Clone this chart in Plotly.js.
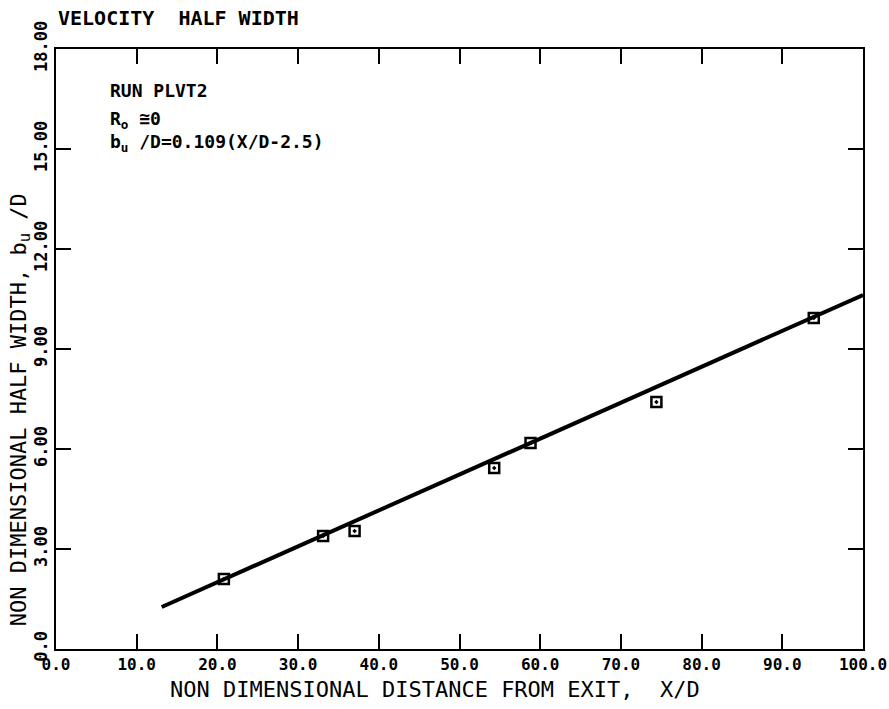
<!DOCTYPE html>
<html>
<head>
<meta charset="utf-8">
<script src="https://cdn.plot.ly/plotly-3.0.1.min.js"></script>
<style>html,body{margin:0;padding:0;background:#fff;}#chart{width:889px;height:709px;}</style>
</head>
<body>
<div id="chart"></div>
<script>
// Measured data points (X/D, b_u/D)
const xData = [20.8, 33.1, 37.0, 54.3, 58.8, 74.4, 93.9];
const yData = [2.10, 3.39, 3.54, 5.43, 6.18, 7.41, 9.93];
// Fitted line endpoints
const fitX = [13.1, 100];
const fitY = [1.26, 10.62];
// Tick values and labels
const xTickVals = [0, 10, 20, 30, 40, 50, 60, 70, 80, 90, 100];
const xTickText = ["0.0", "10.0", "20.0", "30.0", "40.0", "50.0", "60.0", "70.0", "80.0", "90.0", "100.0"];
const yTickVals = [0, 3, 6, 9, 12, 15, 18];
const yTickText = ["0.0", "3.00", "6.00", "9.00", "12.00", "15.00", "18.00"];

const MONO = "DejaVu Sans Mono, Liberation Mono, monospace";

const traces = [
  {
    x: fitX, y: fitY, mode: "lines", type: "scatter",
    line: {color: "#000", width: 4}, hoverinfo: "skip", showlegend: false
  },
  {
    x: xData, y: yData, mode: "markers", type: "scatter",
    marker: {symbol: "square-open-dot", size: 10, color: "#000", line: {color: "#000", width: 2.5}},
    showlegend: false
  }
];

const axisCommon = {
  showline: true, linecolor: "#000", linewidth: 2, mirror: "allticks",
  ticks: "inside", ticklen: 15, tickwidth: 2, tickcolor: "#000",
  showgrid: false, zeroline: false, fixedrange: true, ticklabeloverflow: "allow"
};

const layout = {
  width: 889, height: 709,
  margin: {l: 56, r: 26, t: 49, b: 60},
  paper_bgcolor: "#fff", plot_bgcolor: "#fff",
  showlegend: false,
  xaxis: Object.assign({}, axisCommon, {
    range: [0, 100], tickmode: "array", tickvals: xTickVals, ticktext: xTickText,
    tickfont: {family: MONO, size: 16, color: "#000", weight: "bold"}
  }),
  yaxis: Object.assign({}, axisCommon, {
    range: [0, 18], tickmode: "array", tickvals: yTickVals, ticktext: yTickText,
    tickangle: -90,
    tickfont: {family: "Liberation Sans Narrow, DejaVu Sans Mono, monospace", size: 17, color: "#000", weight: "bold"}
  }),
  annotations: [
    {text: "VELOCITY  HALF WIDTH", xref: "paper", yref: "paper", x: 0.0, y: 1.051,
     xanchor: "left", yanchor: "middle", showarrow: false,
     font: {family: MONO, size: 20, color: "#000", weight: "bold"}},
    {text: "NON DIMENSIONAL DISTANCE FROM EXIT,  X/D", xref: "paper", yref: "paper", x: 0.47, y: -0.0675,
     xanchor: "center", yanchor: "middle", showarrow: false,
     font: {family: MONO, size: 22, color: "#000"}},
    {text: "NON DIMENSIONAL HALF WIDTH, b<sub>u</sub> /D", xref: "paper", yref: "paper", x: -0.0445, y: 0.398,
     xanchor: "center", yanchor: "middle", textangle: -90, showarrow: false,
     font: {family: MONO, size: 22, color: "#000"}},
    {text: "RUN PLVT2", xref: "paper", yref: "paper", x: 0.064, y: 0.93,
     xanchor: "left", yanchor: "middle", showarrow: false,
     font: {family: MONO, size: 18, color: "#000", weight: "bold"}},
    {text: "R<sub>o</sub> ≅0", xref: "paper", yref: "paper", x: 0.064, y: 0.882,
     xanchor: "left", yanchor: "middle", showarrow: false,
     font: {family: MONO, size: 18, color: "#000", weight: "bold"}},
    {text: "b<sub>u</sub> /D=0.109(X/D-2.5)", xref: "paper", yref: "paper", x: 0.064, y: 0.843,
     xanchor: "left", yanchor: "middle", showarrow: false,
     font: {family: MONO, size: 18, color: "#000", weight: "bold"}}
  ]
};

Plotly.newPlot("chart", traces, layout, {staticPlot: true, displayModeBar: false});
</script>
</body>
</html>
